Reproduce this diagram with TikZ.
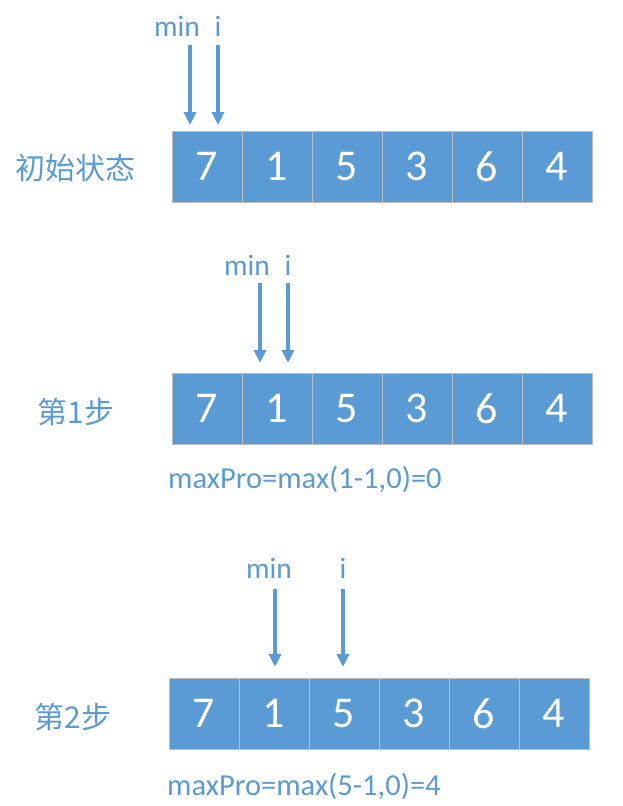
\documentclass[tikz,border=0pt]{standalone}
\usepackage{fontspec}
\setmainfont{Carlito}
\newfontfamily\cjk{Noto Sans CJK SC}
\usetikzlibrary{arrows.meta,positioning}
\definecolor{cellblue}{HTML}{5B9BD5}
\definecolor{cellline}{HTML}{BFBFBF}

\begin{document}
\begin{tikzpicture}[
      x=1pt, y=-1pt,
      >={Triangle[width=12pt,length=13pt]},
      cell/.style={draw=cellline, line width=1pt, fill=cellblue, text=white,
        minimum width=70pt, minimum height=71pt, inner sep=0pt,
        font=\fontsize{44}{44}\selectfont},
      ptrlabel/.style={text=cellblue, anchor=base, inner sep=0pt,
        font=\fontsize{29.5}{29.5}\selectfont},
      steplabel/.style={text=cellblue, inner sep=0pt,
        font=\cjk\fontsize{30}{30}\selectfont},
      formula/.style={text=cellblue, anchor=base west, inner sep=0pt,
        font=\fontsize{30.5}{30.5}\selectfont},
      ptr/.style={->, line width=4pt, draw=cellblue}
    ]
    \useasboundingbox (0,0) rectangle (623,806);

    % Initial state
    \node[steplabel] (s0) at (76,168) {初始状态};
    \node[cell] (a1) at (207,166.5) {7};
    \node[cell] (a2) at (277,166.5) {1};
    \node[cell] (a3) at (347,166.5) {5};
    \node[cell] (a4) at (417,166.5) {3};
    \node[cell] (a5) at (487,166.5) {6};
    \node[cell] (a6) at (557,166.5) {4};
    \node[ptrlabel] (amin) at (177,36) {min};
    \node[ptrlabel] (ai) at (218,36) {i};
    \coordinate (aminfrom) at (190,45);
    \coordinate (aminto) at (190,125);
    \coordinate (aifrom) at (218,45);
    \coordinate (aito) at (218,125);
    \draw[ptr] (aminfrom) -- (aminto);
    \draw[ptr] (aifrom) -- (aito);

    % Step 1
    \node[steplabel] (s1) at (76,412) {第1步};
    \node[cell] (b1) at (207,408.5) {7};
    \node[cell] (b2) at (277,408.5) {1};
    \node[cell] (b3) at (347,408.5) {5};
    \node[cell] (b4) at (417,408.5) {3};
    \node[cell] (b5) at (487,408.5) {6};
    \node[cell] (b6) at (557,408.5) {4};
    \node[ptrlabel] (bmin) at (247,275) {min};
    \node[ptrlabel] (bi) at (288,275) {i};
    \coordinate (bminfrom) at (260,283);
    \coordinate (bminto) at (260,363);
    \coordinate (bifrom) at (288,283);
    \coordinate (bito) at (288,363);
    \draw[ptr] (bminfrom) -- (bminto);
    \draw[ptr] (bifrom) -- (bito);
    \node[formula] (f1) at (168,488) {maxPro=max(1-1,0)=0};

    % Step 2
    \node[steplabel] (s2) at (73,717) {第2步};
    \node[cell] (c1) at (204,713.5) {7};
    \node[cell] (c2) at (274,713.5) {1};
    \node[cell] (c3) at (344,713.5) {5};
    \node[cell] (c4) at (414,713.5) {3};
    \node[cell] (c5) at (484,713.5) {6};
    \node[cell] (c6) at (554,713.5) {4};
    \node[ptrlabel] (cmin) at (269,578) {min};
    \node[ptrlabel] (ci) at (343,578) {i};
    \coordinate (cminfrom) at (275,589);
    \coordinate (cminto) at (275,667);
    \coordinate (cifrom) at (343,589);
    \coordinate (cito) at (343,667);
    \draw[ptr] (cminfrom) -- (cminto);
    \draw[ptr] (cifrom) -- (cito);
    \node[formula] (f2) at (167,795) {maxPro=max(5-1,0)=4};
  \end{tikzpicture}
\end{document}
